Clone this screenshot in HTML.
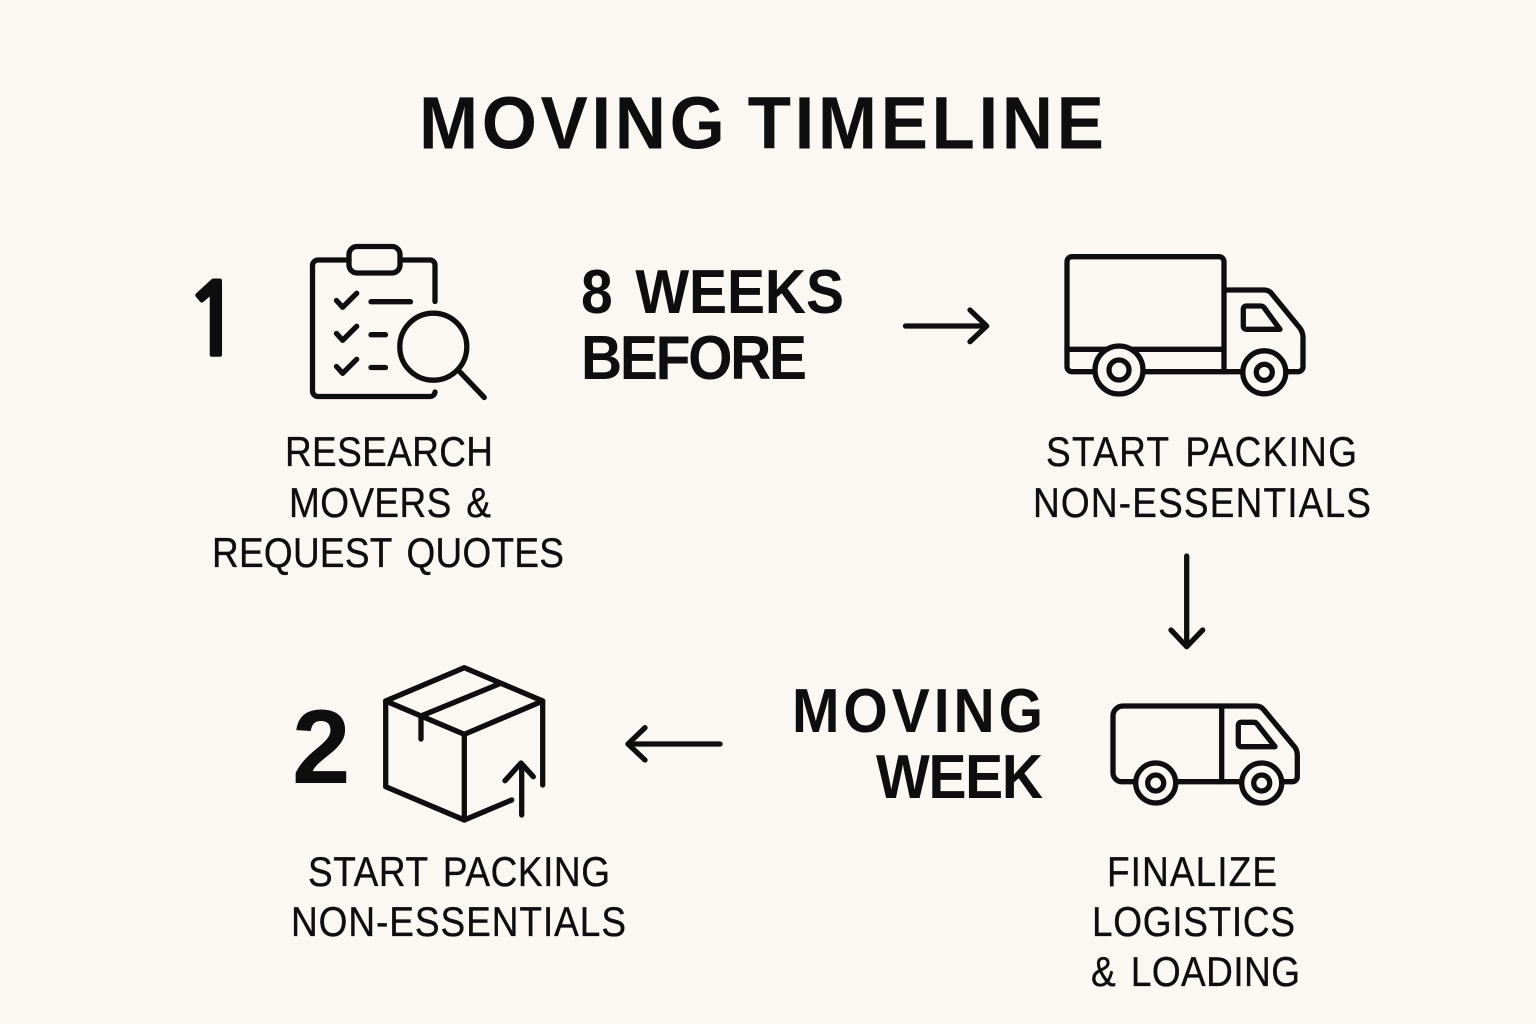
<!DOCTYPE html>
<html><head><meta charset="utf-8"><style>
html,body{margin:0;padding:0;background:#fbf8f4}
svg{display:block}
text{font-family:"Liberation Sans",sans-serif;fill:#0e0e0e}
.b{font-weight:700}
.l{font-size:37px;stroke:#0e0e0e;stroke-width:.3px;word-spacing:4px}
.h{font-size:57px;font-weight:700;word-spacing:7px}
.t{font-size:71px;font-weight:700;word-spacing:-4px}
.n{font-family:"NanumGothic","Liberation Sans",sans-serif;font-weight:700;stroke:#0e0e0e;stroke-width:1.500px}
.i{fill:none;stroke:#0e0e0e;stroke-width:5.300px;stroke-linecap:round;stroke-linejoin:round}
</style></head><body>
<svg width="1536" height="1024" viewBox="0 0 1536 1024" xmlns="http://www.w3.org/2000/svg">
<rect width="1536" height="1024" fill="#fbf8f4"/>
<text class="t" transform="translate(419 148.500) scale(1 1.045)" textLength="685" lengthAdjust="spacing">MOVING TIMELINE</text>
<text class="n" x="183" y="355.500" font-size="101">1</text>
<text class="b" x="292" y="783" font-size="105">2</text>

<text class="h" transform="translate(581 313) scale(1 1.090)" textLength="263" lengthAdjust="spacing">8 WEEKS</text>
<text class="h" transform="translate(581 379) scale(1 1.090)" textLength="226" lengthAdjust="spacing">BEFORE</text>
<text class="h" transform="translate(792 732) scale(1 1.090)" textLength="251" lengthAdjust="spacing">MOVING</text>
<text class="h" transform="translate(876 798) scale(1 1.090)" textLength="167" lengthAdjust="spacing">WEEK</text>

<text class="l" transform="translate(285 466) scale(1 1.130)" textLength="208" lengthAdjust="spacing">RESEARCH</text>
<text class="l" transform="translate(289 517) scale(1 1.130)" textLength="202" lengthAdjust="spacing">MOVERS &amp;</text>
<text class="l" transform="translate(212 567) scale(1 1.130)" textLength="352" lengthAdjust="spacing">REQUEST QUOTES</text>
<text class="l" transform="translate(1046 466) scale(1 1.130)" textLength="311" lengthAdjust="spacing">START PACKING</text>
<text class="l" transform="translate(1033 517) scale(1 1.130)" textLength="338" lengthAdjust="spacing">NON-ESSENTIALS</text>
<text class="l" transform="translate(308 886) scale(1 1.130)" textLength="302" lengthAdjust="spacing">START PACKING</text>
<text class="l" transform="translate(291 936) scale(1 1.130)" textLength="335" lengthAdjust="spacing">NON-ESSENTIALS</text>
<text class="l" transform="translate(1107 886) scale(1 1.130)" textLength="170" lengthAdjust="spacing">FINALIZE</text>
<text class="l" transform="translate(1092 936) scale(1 1.130)" textLength="203" lengthAdjust="spacing">LOGISTICS</text>
<text class="l" transform="translate(1091 986) scale(1 1.130)" textLength="209" lengthAdjust="spacing">&amp; LOADING</text>

<!-- clipboard -->
<g class="i">
<path d="M349 260H318a5.500 5.500 0 0 0-5.500 5.500V391a5.500 5.500 0 0 0 5.500 5.500H430a5 5 0 0 0 5-4.500"/>
<path d="M400 260H430a5 5 0 0 1 5 5V301.500"/>
<rect x="349" y="246.500" width="51" height="26.500" rx="8"/>
<path d="M336.500 300.500L342.700 307.300 356.700 293.300M371 301.700H410.500"/>
<path d="M336.500 333.500L342.700 340.300 356.700 326.300M371 334.700H385.500"/>
<path d="M336.500 366.500L342.700 373.300 356.700 359.300M371 367.500H385.500"/>
<circle cx="433.300" cy="346.700" r="33.500"/>
<path d="M460 372L484.300 397.500"/>
</g>

<!-- truck -->
<g class="i">
<path d="M1224 371.700H1072a5 5 0 0 1-5-5V261.700a5 5 0 0 1 5-5H1219a5 5 0 0 1 5 5V371.700"/>
<path d="M1067 349.300H1224"/>
<path d="M1224 290H1264a10 10 0 0 1 8 4L1299 327a16 16 0 0 1 4 10V366.700a5 5 0 0 1-5 5H1224"/>
<path d="M1243.300 309a3 3 0 0 1 3-3H1261a4 4 0 0 1 3 1.500L1280 329.300H1246.300a3 3 0 0 1-3-3Z"/>
<circle cx="1119" cy="370" r="24" fill="#fbf8f4"/>
<circle cx="1119" cy="370" r="10"/>
<circle cx="1264.300" cy="372.300" r="21.500" fill="#fbf8f4"/>
<circle cx="1264.300" cy="372.300" r="8"/>
</g>

<!-- box -->
<g class="i">
<path d="M464.300 667.700L542.700 701 464.300 734.300 385.700 701Z"/>
<path d="M385.700 701V786.700L464.300 820 511.700 800"/>
<path d="M464.300 734.300V820"/>
<path d="M542.700 701V785"/>
<path d="M498.300 684.300L421 716V739"/>
<path d="M521.700 815V765M505 780.700L521 763 533.300 776.700"/>
</g>

<!-- van -->
<g class="i">
<path d="M1124 706H1256a10 10 0 0 1 8 4L1293 745a14 14 0 0 1 4.300 10V776.700a5 5 0 0 1-5 5H1122a9 9 0 0 1-9-9V716a10 10 0 0 1 10-10Z"/>
<path d="M1221.700 706V781.700"/>
<path d="M1238.300 725.300a3 3 0 0 1 3-3H1254a4 4 0 0 1 3 1.500L1275 746.700H1241.300a3 3 0 0 1-3-3Z"/>
<circle cx="1155.700" cy="783" r="20" fill="#fbf8f4"/>
<circle cx="1155.700" cy="783" r="8"/>
<circle cx="1261.700" cy="783" r="20" fill="#fbf8f4"/>
<circle cx="1261.700" cy="783" r="8"/>
</g>

<!-- arrows -->
<g class="i">
<path d="M905.500 326H986"/><path d="M970 310L986.700 326 970 341.700"/>
<path d="M1186.700 556V646"/><path d="M1171 630L1186.700 646.700 1202.700 630"/>
<path d="M720 744H628"/><path d="M645 727.700L628 744 645 760"/>
</g>
</svg>
</body></html>
